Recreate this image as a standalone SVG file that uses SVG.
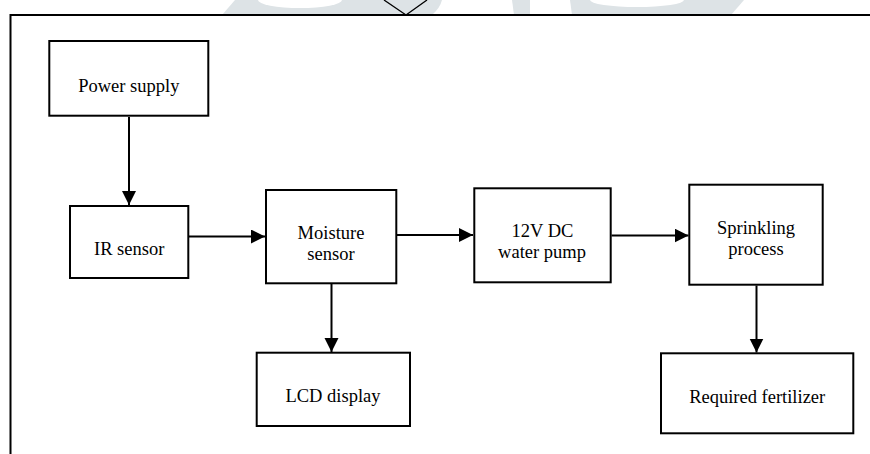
<svg xmlns="http://www.w3.org/2000/svg" width="870" height="454" viewBox="0 0 870 454">
  <style>
    .box { fill: #ffffff; stroke: #000000; stroke-width: 2; }
    .lbl { font-family: "Liberation Serif", "Times New Roman", serif; font-size: 18.5px; fill: #000000; text-anchor: middle; }
    .conn { stroke: #000000; stroke-width: 2; fill: none; marker-end: url(#arrow); }
    .wm { fill: #dde3e6; stroke: none; }
  </style>
  <defs>
    <marker id="arrow" markerUnits="userSpaceOnUse" markerWidth="15" markerHeight="15" refX="14" refY="7" orient="auto">
      <path d="M0,0 L14,7 L0,14 Z" fill="#000000"/>
    </marker>
  </defs>
  <rect x="0" y="0" width="870" height="454" fill="#ffffff"/>
  <g id="watermark">
    <path class="wm" d="M235,0 L222,15 L432,15 Q440,8 442,0 Z"/>
    <ellipse cx="300" cy="0" rx="42" ry="8" fill="#ffffff"/>
    <path class="wm" d="M512,0 L530,0 L530,15 L514,15 Z"/>
    <path class="wm" d="M570,0 L744,0 L731,15 L572,15 Z"/>
    <ellipse cx="637" cy="0" rx="47" ry="7" fill="#ffffff"/>
  </g>
  <g id="frame">
    <path d="M10.5,454 L10.5,15 L870,15" fill="none" stroke="#000000" stroke-width="2"/>
    <path d="M384,0 L406,15 L427,0" fill="none" stroke="#000000" stroke-width="1.3"/>
  </g>
  <g id="connectors">
    <line class="conn" x1="129" y1="117" x2="129" y2="205"/>
    <line class="conn" x1="189" y1="236.5" x2="265" y2="236.5"/>
    <line class="conn" x1="397" y1="235" x2="473" y2="235"/>
    <line class="conn" x1="611.5" y1="235.5" x2="688.5" y2="235.5"/>
    <line class="conn" x1="331.5" y1="284" x2="331.5" y2="352"/>
    <line class="conn" x1="756.5" y1="285.5" x2="756.5" y2="352.5"/>
  </g>
  <g id="power-supply">
    <rect class="box" x="49.3" y="41" width="159" height="74.7"/>
    <text class="lbl" x="128.8" y="91.7">Power supply</text>
  </g>
  <g id="ir-sensor">
    <rect class="box" x="70" y="206" width="118.3" height="72"/>
    <text class="lbl" x="129.2" y="255">IR sensor</text>
  </g>
  <g id="moisture-sensor">
    <rect class="box" x="266" y="190" width="130.3" height="93.3"/>
    <text class="lbl" x="331" y="239">Moisture</text>
    <text class="lbl" x="331" y="260">sensor</text>
  </g>
  <g id="water-pump">
    <rect class="box" x="474.3" y="188.3" width="136.4" height="94"/>
    <text class="lbl" x="542.5" y="237.3">12V DC</text>
    <text class="lbl" x="542" y="258.3">water pump</text>
  </g>
  <g id="sprinkling-process">
    <rect class="box" x="689.3" y="184.7" width="133.4" height="100"/>
    <text class="lbl" x="756" y="233.5">Sprinkling</text>
    <text class="lbl" x="756" y="255">process</text>
  </g>
  <g id="lcd-display">
    <rect class="box" x="256.7" y="352.7" width="153.3" height="73.3"/>
    <text class="lbl" x="333" y="402">LCD display</text>
  </g>
  <g id="required-fertilizer">
    <rect class="box" x="661" y="353.3" width="192.3" height="80"/>
    <text class="lbl" x="757.2" y="403.3">Required fertilizer</text>
  </g>
</svg>
